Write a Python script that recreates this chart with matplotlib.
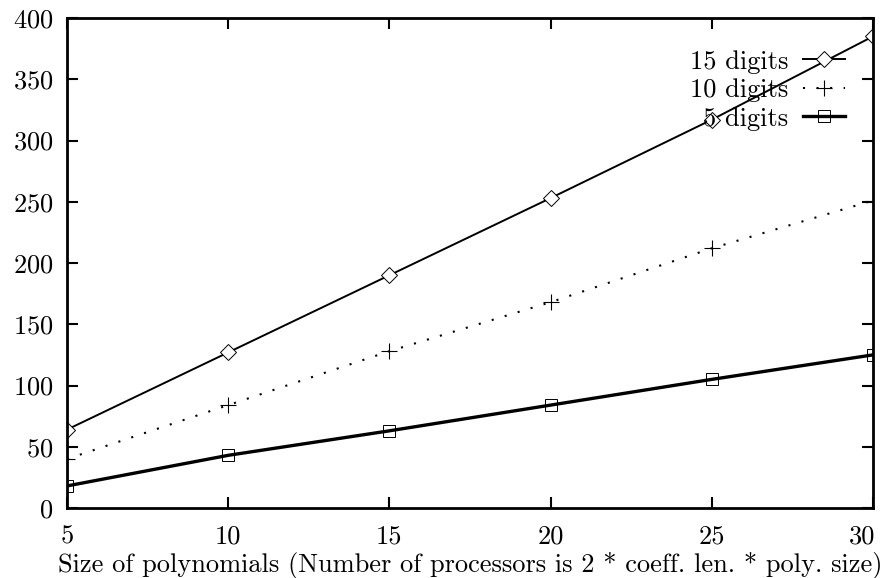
import matplotlib.pyplot as plt

plt.rcParams['font.family'] = 'cmr10'
plt.rcParams['axes.formatter.use_mathtext'] = True
plt.rcParams['font.size'] = 19

sizes = [5, 10, 15, 20, 25, 30]
digits15 = [64, 127, 190, 253, 317, 385]
digits10 = [40, 84, 128, 168, 212, 251]
digits5 = [18, 43, 63, 84, 105, 125]

fig = plt.figure(figsize=(8.85, 5.78), dpi=100)
ax = fig.add_axes([67 / 885, 1 - 508 / 578, (873 - 67) / 885, (508 - 18) / 578])

ax.plot(sizes, digits15, color='black', lw=1.4, marker='D', ms=8,
        mfc='white', mec='black', mew=0.7, label='15 digits')
ax.plot(sizes, digits10, color='black', lw=1.5, ls=(0, (1, 5.5)), marker='+', ms=11,
        mew=0.8, label='10 digits')
ax.plot(sizes, digits5, color='black', lw=2.4, marker='s', ms=8.5,
        mfc='none', mec='black', mew=0.7, label='5 digits')

ax.set_xlim(5, 30)
ax.set_ylim(0, 400)
ax.set_xticks(sizes)
ax.set_yticks(range(0, 401, 50))
ax.tick_params(direction='in', top=True, right=True, length=8, width=1.5)
ax.tick_params(axis='x', pad=12)
ax.tick_params(axis='y', pad=10)
for s in ax.spines.values():
    s.set_linewidth(2)

# last x label is pushed left to stay inside the figure, as gnuplot does
xlabels = [str(v) for v in sizes]
ax.set_xticklabels(xlabels[:-1] + [''])
ax.annotate(xlabels[-1], xy=(sizes[-1], 0), xycoords=('data', 'axes fraction'),
            xytext=(1.5, -12), textcoords='offset points', ha='right', va='top')

ax.set_xlabel('Size of polynomials (Number of processors is 2 * coeff. len. * poly. size)')
ax.xaxis.set_label_coords(0.5, -0.089)

leg = ax.legend(loc='upper right', bbox_to_anchor=(0.965, 0.935), frameon=False,
                markerfirst=False, handlelength=1.6, handletextpad=0.55,
                labelspacing=0.18, borderaxespad=0, borderpad=0)
for t in leg.get_texts():
    t.set_ha('right')

fig.savefig('out.png', dpi=100)
